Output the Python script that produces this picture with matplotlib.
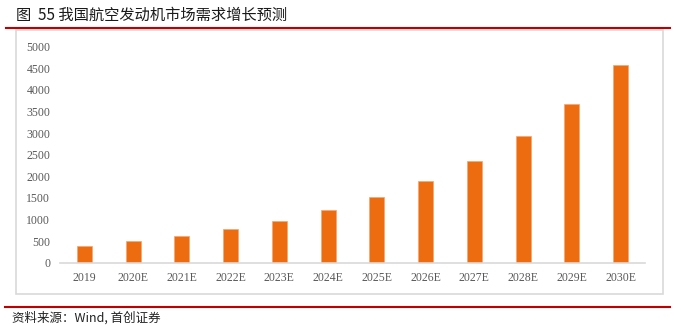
import matplotlib
matplotlib.use("Agg")
import matplotlib.pyplot as plt
from matplotlib.patches import Rectangle
from matplotlib.lines import Line2D

categories = ["2019", "2020E", "2021E", "2022E", "2023E", "2024E", "2025E",
              "2026E", "2027E", "2028E", "2029E", "2030E"]
values = [390, 495, 617, 779, 971, 1218, 1512, 1895, 2365, 2943, 3675, 4577]
yticks = [0, 500, 1000, 1500, 2000, 2500, 3000, 3500, 4000, 4500, 5000]

title = "图  55 我国航空发动机市场需求增长预测"
source = "资料来源：Wind, 首创证券"

W, H = 681, 326
fig = plt.figure(figsize=(W / 100, H / 100), dpi=100)

# chart box
fig.patches.append(Rectangle((15.5 / W, 1 - 294 / H), (663 - 15.5) / W, (294 - 30) / H,
                             transform=fig.transFigure, fill=False,
                             edgecolor="#D9D9D9", linewidth=1.2))
# red rules
fig.add_artist(Line2D([6 / W, 670 / W], [1 - 28 / H, 1 - 28 / H], transform=fig.transFigure,
                      color="#C00000", linewidth=1.5))
fig.add_artist(Line2D([5 / W, 670 / W], [1 - 306.5 / H, 1 - 306.5 / H], transform=fig.transFigure,
                      color="#C00000", linewidth=1.5))

fig.text(16 / W, 1 - 15 / H, title, fontsize=11, color="#1a1a1a",
         family=["Noto Sans CJK SC", "DejaVu Sans"], va="center", ha="left")
fig.text(12 / W, 1 - 318 / H, source, fontsize=9, color="#222222", style="italic",
         family=["Noto Sans CJK SC", "DejaVu Sans"], va="center", ha="left")

ax = fig.add_axes([60 / W, 1 - 262.7 / H, (645 - 60) / W, (262.7 - 46.7) / H])
x = list(range(len(categories)))
ax.bar(x, values, width=0.31, color="#EC6C0F", edgecolor="#F4A570", linewidth=0.5)
ax.set_xlim(-0.5, len(categories) - 0.5)
ax.set_ylim(0, 5000)
ax.set_yticks(yticks)
ax.set_yticklabels([str(t) for t in yticks])
ax.set_xticks(x)
ax.set_xticklabels(categories)
for s in ["top", "right", "left"]:
    ax.spines[s].set_visible(False)
ax.spines["bottom"].set_color("#D9D9D9")
ax.spines["bottom"].set_linewidth(1.2)
ax.tick_params(axis="both", length=0, labelsize=8.5, labelcolor="#595959")
ax.tick_params(axis="y", pad=7)
ax.tick_params(axis="x", pad=7)
for lab in ax.get_xticklabels() + ax.get_yticklabels():
    lab.set_family("Liberation Serif")

fig.savefig("out.png", dpi=100)
